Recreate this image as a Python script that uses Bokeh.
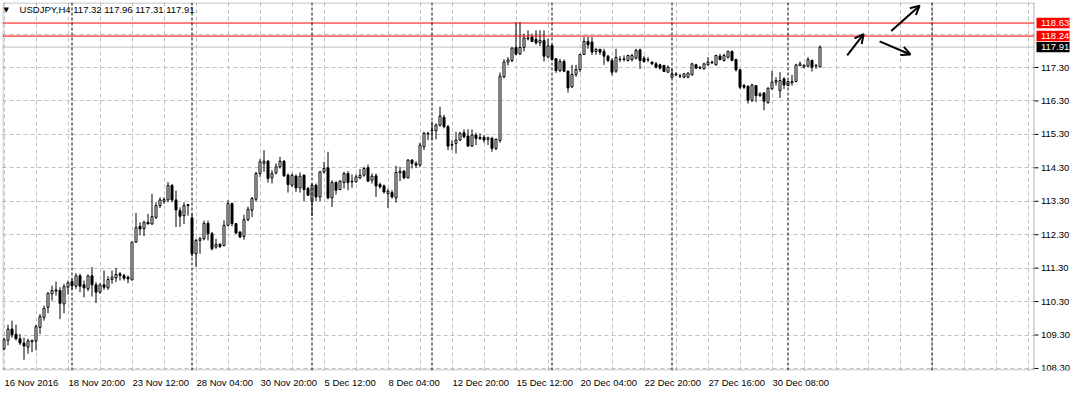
from bokeh.plotting import figure
from bokeh.models import (ColumnDataSource, FixedTicker, Span, Label, Arrow, OpenHead,
                          Range1d, CustomJSTickFormatter, BoxAnnotation)
from bokeh.core.properties import value
from bokeh.embed import file_html
from bokeh.resources import INLINE

# ---------------- data (USDJPY, H4) ----------------
opens = [108.89, 109.14, 109.48, 109.32, 109.19, 109.06, 108.94, 109.10, 109.12, 109.53,
         109.83, 110.13, 110.53, 110.61, 110.63, 110.23, 110.73, 110.90, 110.76, 111.07,
         110.80, 110.68, 111.07, 110.80, 110.58, 110.80, 110.71, 110.96, 111.01, 111.13,
         111.08, 111.03, 110.95, 112.08, 112.55, 112.48, 112.67, 112.62, 112.82, 113.17,
         113.30, 113.34, 113.77, 113.34, 113.02, 112.87, 113.20, 112.80, 111.73, 112.13,
         112.18, 112.64, 112.33, 111.93, 112.01, 111.98, 112.58, 113.23, 112.63, 112.38,
         112.25, 112.75, 113.03, 113.36, 114.13, 114.43, 114.50, 114.00, 114.15, 114.33,
         114.50, 114.08, 113.78, 114.05, 113.70, 114.08, 113.68, 113.30, 113.78, 113.43,
         114.18, 114.30, 113.40, 113.86, 113.65, 113.86, 114.13, 113.88, 113.88, 114.00,
         114.08, 114.30, 113.93, 114.06, 113.80, 113.76, 113.53, 113.56, 113.40, 114.15,
         114.20, 114.00, 114.53, 114.43, 114.38, 114.93, 115.31, 115.41, 115.41, 115.58,
         115.81, 115.53, 115.00, 115.03, 115.13, 115.35, 115.25, 114.95, 115.28, 115.21,
         115.21, 115.15, 115.18, 114.88, 115.12, 117.02, 117.46, 117.51, 117.90, 117.70,
         117.90, 118.16, 118.21, 118.14, 118.04, 118.11, 117.61, 117.96, 117.56, 117.21,
         117.48, 117.19, 116.72, 117.09, 117.24, 117.69, 118.08, 118.06, 117.78, 117.84,
         117.78, 117.64, 117.51, 117.19, 117.55, 117.54, 117.51, 117.54, 117.58, 117.83,
         117.58, 117.53, 117.46, 117.41, 117.38, 117.36, 117.16, 117.01, 117.08, 117.04,
         117.01, 117.01, 117.08, 117.38, 117.28, 117.26, 117.38, 117.44, 117.38, 117.64,
         117.51, 117.61, 117.78, 117.54, 117.23, 116.76, 116.74, 116.32, 116.76, 116.46,
         116.54, 116.25, 116.66, 116.86, 116.61, 116.96, 116.76, 116.84, 116.88, 117.36,
         117.31, 117.34, 117.51, 117.36, 117.32]
highs = [109.22, 109.61, 109.73, 109.61, 109.33, 109.22, 109.19, 109.16, 109.61, 109.93,
         110.18, 110.58, 110.78, 110.90, 110.73, 110.83, 110.93, 110.98, 111.15, 111.13,
         110.93, 111.11, 111.33, 110.88, 110.85, 111.23, 111.06, 111.23, 111.31, 111.18,
         111.13, 111.08, 112.08, 112.95, 112.67, 112.72, 112.92, 113.52, 113.27, 113.42,
         113.42, 113.87, 113.82, 113.62, 113.12, 113.27, 113.22, 112.92, 112.18, 112.23,
         112.72, 112.72, 112.38, 112.18, 112.05, 112.73, 113.33, 113.26, 112.65, 112.40,
         112.90, 113.14, 113.43, 114.18, 114.56, 114.83, 114.53, 114.23, 114.43, 114.63,
         114.53, 114.13, 114.13, 114.10, 114.16, 114.10, 113.73, 113.83, 113.83, 114.20,
         114.48, 114.78, 113.93, 113.90, 113.93, 114.18, 114.20, 114.10, 114.10, 114.26,
         114.33, 114.40, 114.13, 114.13, 113.86, 113.80, 113.68, 113.63, 114.36, 114.33,
         114.23, 114.56, 114.56, 114.50, 115.05, 115.38, 115.38, 115.68, 115.63, 116.13,
         115.88, 115.58, 115.13, 115.38, 115.38, 115.45, 115.45, 115.45, 115.35, 115.33,
         115.28, 115.23, 115.23, 115.18, 117.15, 117.55, 117.61, 117.91, 118.66, 118.66,
         118.31, 118.41, 118.31, 118.41, 118.41, 118.41, 118.16, 117.98, 117.58, 117.56,
         117.54, 117.21, 117.38, 117.38, 117.71, 118.21, 118.21, 118.21, 117.88, 117.86,
         117.86, 117.68, 117.58, 117.86, 117.64, 117.66, 117.68, 117.71, 117.86, 117.86,
         117.64, 117.61, 117.48, 117.46, 117.41, 117.38, 117.36, 117.26, 117.16, 117.11,
         117.14, 117.16, 117.44, 117.41, 117.34, 117.44, 117.61, 117.51, 117.68, 117.71,
         117.71, 117.81, 117.81, 117.56, 117.26, 116.81, 116.76, 116.81, 116.78, 116.56,
         116.56, 116.71, 117.21, 117.01, 117.16, 117.01, 116.91, 117.08, 117.41, 117.48,
         117.40, 117.61, 117.54, 117.41, 117.96]
lows = [108.84, 108.99, 109.22, 109.14, 109.00, 108.56, 108.74, 108.79, 108.84, 109.33,
        109.73, 109.95, 110.33, 110.48, 109.78, 109.95, 110.51, 110.65, 110.68, 110.58,
        110.43, 110.61, 110.45, 110.26, 110.53, 110.65, 110.65, 110.83, 110.88, 110.93,
        110.93, 110.85, 110.93, 112.06, 112.28, 112.26, 112.62, 112.60, 112.77, 113.10,
        113.22, 113.27, 113.27, 112.53, 112.53, 112.62, 112.87, 111.65, 111.33, 111.73,
        112.13, 112.13, 111.83, 111.88, 111.90, 111.95, 112.55, 112.55, 112.33, 112.20,
        112.15, 112.70, 112.83, 113.30, 114.03, 114.18, 113.86, 113.83, 114.10, 114.28,
        114.03, 113.56, 113.73, 113.58, 113.56, 113.30, 113.46, 112.86, 113.30, 113.30,
        114.13, 113.36, 113.13, 113.50, 113.63, 113.68, 113.63, 113.70, 113.86, 113.96,
        114.03, 113.88, 113.83, 113.43, 113.68, 113.53, 113.10, 113.38, 113.26, 113.90,
        113.96, 113.98, 114.28, 114.30, 114.33, 114.83, 115.13, 115.13, 115.15, 115.53,
        115.48, 114.83, 114.83, 114.73, 115.10, 115.18, 114.93, 114.93, 114.98, 115.13,
        115.05, 114.98, 114.78, 114.83, 115.05, 116.98, 117.36, 117.46, 117.66, 117.68,
        117.78, 118.11, 118.06, 117.98, 117.94, 117.48, 117.58, 117.51, 117.14, 117.16,
        117.16, 116.55, 116.69, 117.02, 117.16, 117.68, 117.86, 117.68, 117.68, 117.68,
        117.38, 117.46, 117.06, 117.14, 117.46, 117.48, 117.48, 117.48, 117.54, 117.26,
        117.44, 117.46, 117.38, 117.28, 117.24, 117.16, 117.14, 116.98, 117.04, 116.98,
        116.98, 116.98, 117.06, 117.26, 117.24, 117.24, 117.36, 117.40, 117.36, 117.51,
        117.48, 117.56, 117.51, 117.18, 116.66, 116.66, 116.22, 116.27, 116.27, 116.42,
        116.02, 116.22, 116.64, 116.76, 116.39, 116.66, 116.74, 116.76, 116.86, 117.34,
        117.28, 117.31, 117.18, 117.26, 117.31]
closes = [109.16, 109.48, 109.31, 109.19, 109.06, 108.97, 109.12, 109.14, 109.55, 109.85,
          110.10, 110.55, 110.63, 110.65, 110.25, 110.75, 110.86, 110.77, 111.07, 110.76,
          110.71, 111.07, 110.80, 110.58, 110.80, 110.73, 110.96, 111.03, 111.11, 111.08,
          111.00, 110.98, 112.08, 112.51, 112.47, 112.67, 112.62, 112.84, 113.17, 113.34,
          113.35, 113.77, 113.34, 113.04, 112.85, 113.17, 113.17, 111.73, 112.13, 112.18,
          112.64, 112.33, 111.88, 112.01, 111.95, 112.58, 113.23, 112.63, 112.35, 112.23,
          112.75, 113.06, 113.38, 114.13, 114.48, 114.50, 113.98, 114.13, 114.33, 114.50,
          114.06, 113.80, 114.08, 113.70, 114.05, 113.65, 113.48, 113.78, 113.43, 114.18,
          114.28, 113.40, 113.86, 113.63, 113.90, 114.13, 113.86, 113.90, 114.03, 114.08,
          114.28, 113.90, 114.05, 113.76, 113.73, 113.58, 113.60, 113.43, 114.16, 114.20,
          114.00, 114.53, 114.43, 114.38, 114.98, 115.33, 115.33, 115.43, 115.58, 115.85,
          115.53, 114.95, 114.98, 115.13, 115.33, 115.23, 114.95, 115.28, 115.18, 115.18,
          115.13, 115.20, 114.88, 115.15, 117.04, 117.46, 117.53, 117.88, 117.70, 117.90,
          118.18, 118.18, 118.08, 118.04, 118.11, 117.64, 117.94, 117.54, 117.21, 117.48,
          117.19, 116.69, 117.09, 117.24, 117.69, 118.08, 117.98, 117.76, 117.84, 117.76,
          117.64, 117.51, 117.16, 117.60, 117.54, 117.56, 117.66, 117.66, 117.81, 117.51,
          117.48, 117.54, 117.41, 117.31, 117.28, 117.18, 117.31, 117.11, 117.11, 117.05,
          117.11, 117.13, 117.41, 117.28, 117.31, 117.41, 117.46, 117.46, 117.66, 117.54,
          117.66, 117.78, 117.51, 117.23, 116.71, 116.71, 116.32, 116.78, 116.46, 116.51,
          116.29, 116.68, 116.86, 116.91, 116.91, 116.78, 116.88, 116.88, 117.38, 117.41,
          117.36, 117.54, 117.31, 117.35, 117.91]

time_tick_bars = [0, 16, 32, 48, 64, 80, 96, 112, 128, 144, 160, 176, 192]
time_tick_labels = ["16 Nov 2016", "18 Nov 20:00", "23 Nov 12:00", "28 Nov 04:00",
                    "30 Nov 20:00", "5 Dec 12:00", "8 Dec 04:00", "12 Dec 20:00",
                    "15 Dec 12:00", "20 Dec 04:00", "22 Dec 20:00", "27 Dec 16:00",
                    "30 Dec 08:00"]
week_start_bars = [17, 47, 77, 107, 137, 167, 196, 232]
price_ticks = [108.30, 109.30, 110.30, 111.30, 112.30, 113.30, 114.30, 115.30, 116.30, 117.30]
price_grid = [108.30, 109.30, 110.30, 111.30, 112.30, 113.30, 114.30, 115.30, 116.30,
              117.30, 118.30]
time_grid = [0, 8, 16, 24, 32, 40, 48, 56, 64, 72, 80, 88, 96, 104, 112, 120, 128, 136,
             144, 152, 160, 168, 176, 184, 192, 200, 208, 216, 224, 232, 240, 248, 256]
level_prices = [118.63, 118.24]
bid_price = 117.91
symbol = "USDJPY,H4"
last_ohlc = "117.32 117.96 117.31 117.91"
# hand-drawn arrows (bar index / price)
arrow_x0 = [210.8, 221.8, 218.9]
arrow_y0 = [117.66, 118.39, 118.08]
arrow_x1 = [214.9, 228.9, 226.6]
arrow_y1 = [118.30, 119.15, 117.69]

# ---------------- geometry helpers ----------------
PX = 4.0                      # pixels per bar
PPU = 33.44                   # pixels per price unit
X0, X1 = -0.375, 267.625      # full frame (chart + price scale strip)
XB = 257.5                    # right border of the chart box
Y0, Y1 = 108.239, 119.244
FONT = "Liberation Sans"
FS = "9.5px"

def bars(px):
    return px / PX

def price_span(px):
    return px / PPU

# Arial-metric character widths, used to left-align the time labels at their bar
_W = {" ": .278, ":": .278, "N": .722, "o": .556, "v": .5, "D": .722, "e": .556, "c": .5}

def text_px(s, size=9.5):
    return sum(_W.get(ch, .556) for ch in s) * size

# ---------------- figure ----------------
n = len(opens)
src = ColumnDataSource(dict(
    x=list(range(n)), o=opens, h=highs, l=lows, c=closes,
    top=[max(a, b) for a, b in zip(opens, closes)],
    bot=[min(a, b) for a, b in zip(opens, closes)],
    fill=["white" if c >= o else "black" for o, c in zip(opens, closes)],
))

p = figure(width=1074, height=393, output_backend="svg", toolbar_location=None,
           x_range=Range1d(X0, X1), y_range=Range1d(Y0, Y1),
           y_axis_location=None, min_border_left=2, min_border_top=2,
           min_border_right=0, min_border_bottom=23)
p.background_fill_color = "white"
p.border_fill_color = "white"
p.outline_line_color = None

# grids
p.xgrid.ticker = FixedTicker(ticks=time_grid)
p.ygrid.ticker = FixedTicker(ticks=price_grid)
for g in (p.xgrid, p.ygrid):
    g.grid_line_color = "#c0c0c0"
    g.grid_line_dash = "4 3"
    g.grid_line_width = 1
yg = p.ygrid[0]
if "cross_bounds" in yg.properties():
    yg.cross_bounds = (X0, XB)
else:
    yg.visible = False
    p.segment(x0=[X0] * len(price_grid), x1=[XB] * len(price_grid), y0=price_grid,
              y1=price_grid, line_color="#c0c0c0", line_dash="4 3", line_width=1)

# time axis: labels start at their bar, as on the terminal
label_pos = [b + bars(0.5 + text_px(t) / 2) for b, t in zip(time_tick_bars, time_tick_labels)]
xa = p.xaxis[0]
xa.ticker = FixedTicker(ticks=label_pos)
xa.formatter = CustomJSTickFormatter(args=dict(pos=label_pos, labels=time_tick_labels), code="""
    let best = 0;
    for (let i = 0; i < pos.length; i++) {
        if (Math.abs(pos[i] - tick) < Math.abs(pos[best] - tick)) best = i;
    }
    return labels[best];
""")
xa.axis_line_color = None
xa.major_tick_in = 0
xa.major_tick_out = 0
xa.minor_tick_line_color = None
xa.major_label_text_font = FONT
xa.major_label_text_font_size = FS
xa.major_label_text_color = "black"
xa.major_label_standoff = 6

# week separators
for b in week_start_bars:
    p.add_layout(Span(location=b, dimension="height", line_color="black",
                      line_dash="3 2", line_width=1))

# bid line
p.segment(x0=[X0], x1=[XB], y0=[bid_price], y1=[bid_price], line_color="#c0c0c0",
          line_width=1)

# candles
p.segment(x0="x", y0="l", x1="x", y1="h", source=src, line_color="black", line_width=1)
p.vbar(x="x", width=0.5, top="top", bottom="bot", source=src, fill_color="fill",
       line_color="black", line_width=1)

# horizontal levels
p.segment(x0=[X0] * len(level_prices), x1=[XB] * len(level_prices), y0=level_prices,
          y1=level_prices, line_color="#ff0000", line_width=1)

# chart box
p.add_layout(BoxAnnotation(left=X0 + bars(0.5), right=XB, bottom=Y0 + price_span(0.5),
                           top=Y1 - price_span(0.5), fill_color=None, fill_alpha=0,
                           line_color="black", line_width=1, level="overlay"))

# arrows
for x0, y0, x1, y1 in zip(arrow_x0, arrow_y0, arrow_x1, arrow_y1):
    p.add_layout(Arrow(x_start=x0, y_start=y0, x_end=x1, y_end=y1, line_width=2,
                       line_color="black",
                       end=OpenHead(size=9, line_width=2, line_color="black")))

# header
p.add_layout(Label(x=0.55, y=119.03, text="\u25bc", text_font="DejaVu Sans",
                   text_font_size="7px", text_align="center", text_baseline="middle",
                   text_color="black"))
p.add_layout(Label(x=3.9, y=119.03, text=symbol + "  " + last_ohlc, text_font=FONT,
                   text_font_size=FS, text_align="left", text_baseline="middle",
                   text_color="black"))

# price scale (right strip)
tick_x0 = XB + bars(0.5)
p.segment(x0=[tick_x0] * len(price_ticks), x1=[tick_x0 + bars(4)] * len(price_ticks),
          y0=price_ticks, y1=price_ticks, line_color="black", line_width=1)
label_x = XB + bars(7)
p.text(x=[label_x] * len(price_ticks), y=price_ticks,
       text=["%.2f" % t for t in price_ticks], text_font=value(FONT),
       text_font_size=FS, text_color="black", text_baseline="middle", text_align="left")

box_prices = level_prices + [bid_price]
box_colors = ["#ff0000"] * len(level_prices) + ["black"]
half_h = price_span(5.2)
p.quad(left=[XB + bars(2.5)] * 3, right=[XB + bars(35.5)] * 3,
       bottom=[b - half_h for b in box_prices], top=[b + half_h for b in box_prices],
       fill_color=box_colors, line_color=None)
p.text(x=[label_x] * 3, y=box_prices, text=["%.2f" % b for b in box_prices],
       text_font=value(FONT), text_font_size=FS, text_color="white",
       text_baseline="middle", text_align="left")

open("out.html", "w").write(file_html(p, INLINE))
